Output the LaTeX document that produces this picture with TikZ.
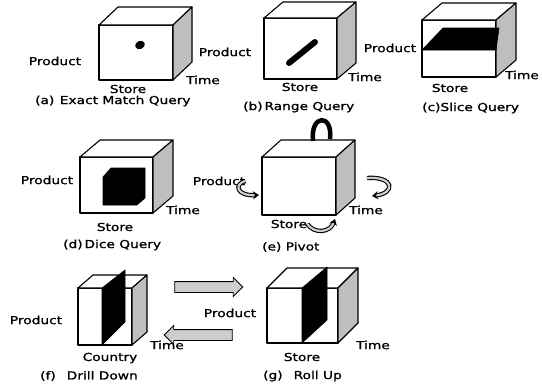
\documentclass[tikz,border=0pt]{standalone}
\usepackage{fontspec}
\setmainfont{DejaVu Sans}[FakeStretch=1.25, FakeBold=1.2]
\usetikzlibrary{arrows.meta, shapes.arrows}
\definecolor{sidegray}{RGB}{190,190,190}
\definecolor{arrowgray}{RGB}{205,205,205}

% front top-left, front bottom-right, depth offset
\newcommand{\cubeat}[6]{%
  \filldraw[frontface] (#1,#2) rectangle (#3,#4);
  \filldraw[frontface] (#1,#2) -- ++(#5,#6) -- ++(#3-#1,0) -- (#3,#2) -- cycle;
  \filldraw[sideface] (#3,#2) -- ++(#5,#6) -- ++(0,#4-#2) -- (#3,#4) -- cycle;
}

\begin{document}
\begin{tikzpicture}[x=1pt, y=-1pt,
    frontface/.style={draw, line width=1.1pt, fill=white, line join=round},
    sideface/.style={draw, line width=1.1pt, fill=sidegray, line join=round},
    slab/.style={fill=black, draw=black, line width=0.6pt, line join=round},
    lbl/.style={font=\fontsize{11}{13}\selectfont, inner sep=0pt},
    captxt/.style={lbl, anchor=west},
    rotarr/.style={draw=black, line width=1.1pt, double=arrowgray,
                   double distance=2.2pt, -{Stealth[length=6pt, width=8pt]}},
    blockarr/.style={single arrow, draw, line width=0.8pt, fill=arrowgray,
                     minimum height=68pt, inner sep=5pt,
                     single arrow head extend=4pt}
  ]
    \useasboundingbox (0,0) rectangle (542,391);

    %% (a) Exact match query
    \cubeat{99}{25}{173}{80}{19}{-18}
    \fill[rotate around={20:(140,45)}] (140,45) ellipse (5pt and 4pt);
    \node[lbl] (a-prod) at (55,61) {Product};
    \node[lbl] (a-time) at (203,80) {Time};
    \node[lbl] (a-store) at (128,89) {Store};
    \node[captxt] (a-cap) at (35,101) {(a)\enspace Exact Match Query};

    %% (b) Range query
    \cubeat{264}{18}{337}{79}{19}{-16}
    \draw[line width=6pt, line cap=round] (289,63) -- (315,42);
    \node[lbl] (b-prod) at (225,52) {Product};
    \node[lbl] (b-time) at (365,77) {Time};
    \node[lbl] (b-store) at (300,87) {Store};
    \node[captxt] (b-cap) at (243,107) {(b)\,Range Query};

    %% (c) Slice query
    \cubeat{422}{20}{496}{77}{20}{-17}
    \filldraw[slab] (422,50) -- (496,50) -- (499,28) -- (443,28) -- cycle;
    \node[lbl] (c-prod) at (390,48) {Product};
    \node[lbl] (c-time) at (522,75) {Time};
    \node[lbl] (c-store) at (450,88) {Store};
    \node[captxt] (c-cap) at (422,108) {(c)Slice Query};

    %% (d) Dice query
    \cubeat{80}{157}{153}{213}{20}{-17}
    \filldraw[slab] (103,177) -- (111,168) -- (145,168) -- (145,198)
      -- (137,205) -- (103,205) -- cycle;
    \node[lbl] (d-prod) at (47,180) {Product};
    \node[lbl] (d-time) at (183,210) {Time};
    \node[lbl] (d-store) at (115,227) {Store};
    \node[captxt] (d-cap) at (63,245) {(d)\,Dice Query};

    %% (e) Pivot
    \cubeat{262}{157}{336}{215}{19}{-17}
    \draw[line width=4.5pt] (313,141) .. controls (310,114) and (333,113) .. (330,139);
    \node[lbl] (e-prod) at (219,181) {Product};
    \node[lbl] (e-time) at (366,210) {Time};
    \node[lbl] (e-store) at (289,224) {Store};
    \node[captxt] (e-cap) at (262,247) {(e) Pivot};
    \draw[rotarr] (e-prod.east) .. controls (234,184) and (236,196) .. (259,195);
    \draw[rotarr] (367,178) .. controls (394,176) and (396,193) .. (372,196);
    \draw[rotarr] (e-store.east) .. controls (314,234) and (330,233) .. (335,219);

    %% (f) Drill down
    \cubeat{78}{288}{132}{345}{15}{-13}
    \filldraw[slab] (102,288) -- (102,345) -- (125,322) -- (125,270) -- cycle;
    \node[lbl] (f-prod) at (36,320) {Product};
    \node[lbl] (f-time) at (167,345) {Time};
    \node[lbl] (f-store) at (110,358) {Country};
    \node[captxt] (f-cap) at (40,376) {(f)\quad Drill Down};

    %% (g) Roll up
    \cubeat{267}{288}{338}{343}{20}{-20}
    \filldraw[slab] (302,288) -- (302,343) -- (327,320) -- (327,267) -- cycle;
    \node[lbl] (g-prod) at (230,313) {Product};
    \node[lbl] (g-time) at (373,345) {Time};
    \node[lbl] (g-store) at (302,357) {Store};
    \node[captxt] (g-cap) at (263,376) {(g)\quad Roll Up};

    %% Between (f) and (g)
    \node[blockarr] (drill) at (206,287) {};
    \node[blockarr, shape border rotate=180] (roll) at (201,335) {};
  \end{tikzpicture}
\end{document}
